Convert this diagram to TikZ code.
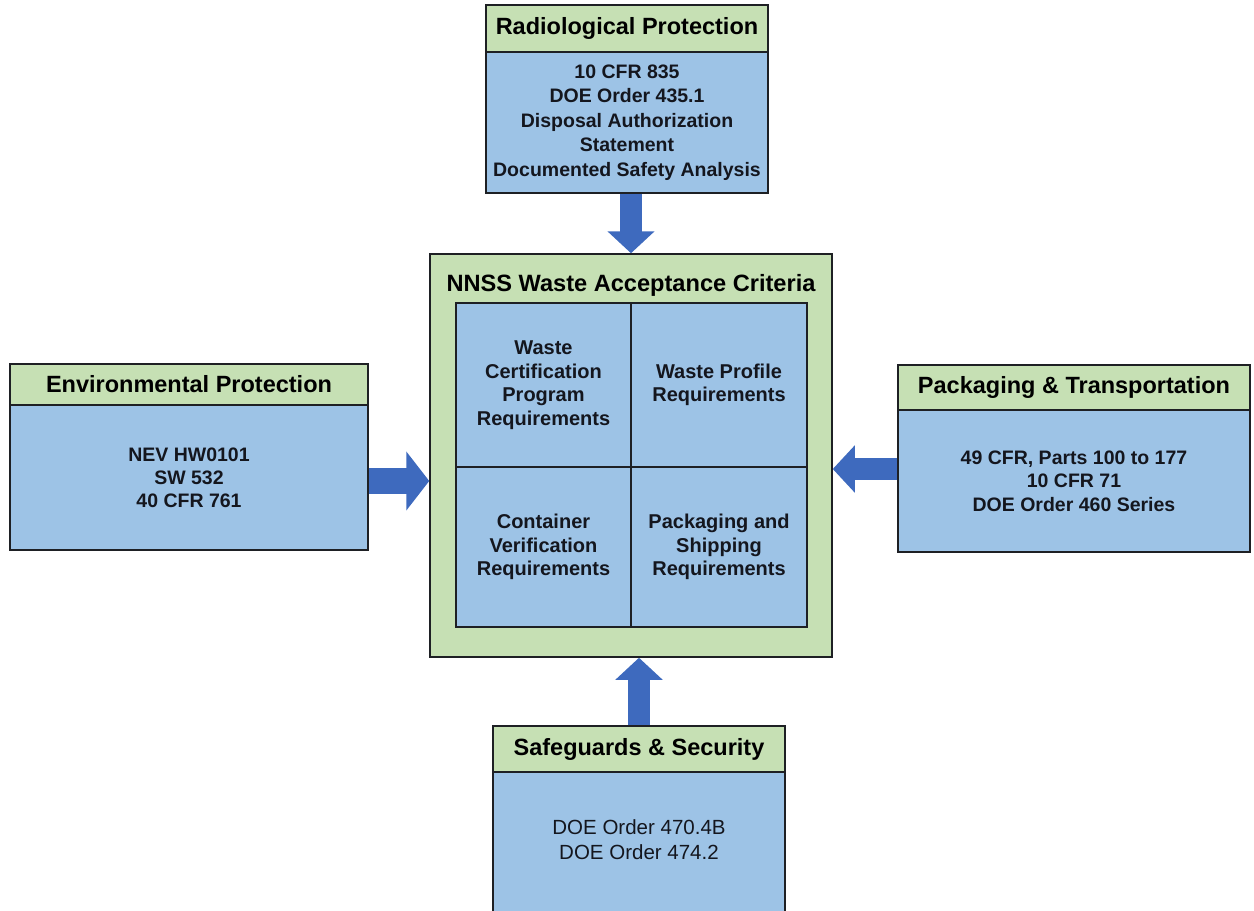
\documentclass[tikz,border=0pt]{standalone}
\usepackage{fontspec}
\setmainfont{Liberation Sans}
\usetikzlibrary{arrows.meta}
\definecolor{hdrgreen}{RGB}{198,224,180}
\definecolor{bodyblue}{RGB}{157,195,230}
\definecolor{arrblue}{RGB}{62,106,190}
\definecolor{edgec}{RGB}{30,32,36}
\definecolor{txt}{RGB}{20,22,30}
\begin{document}
\begin{tikzpicture}[x=1pt,y=-1pt,
  hdr/.style={draw=edgec, line width=1.5pt, fill=hdrgreen, inner sep=0pt,
    font=\fontsize{23.5}{27}\selectfont\bfseries, text=black},
  bodybox/.style={draw=edgec, line width=1.5pt, fill=bodyblue, inner sep=0pt,
    align=center, font=\fontsize{19.5}{24}\selectfont\bfseries, text=txt},
  cell/.style={draw=edgec, line width=1.5pt, fill=bodyblue, inner sep=0pt,
    align=center, font=\fontsize{20}{23.5}\selectfont\bfseries, text=txt},
  flow/.style={arrblue, line width=22pt, -{Triangle[width=46pt,length=22pt]}},
  bigflow/.style={arrblue, line width=26pt, -{Triangle[width=58pt,length=23pt]}}]
\useasboundingbox (0,0) rectangle (1254,911);

% Center box
\node[draw=edgec, line width=1.5pt, fill=hdrgreen, minimum width=402pt, minimum height=403pt] (wac) at (631,455.5) {};
\node[font=\fontsize{23.6}{27}\selectfont\bfseries, text=black] (wact) at (631,285) {NNSS Waste Acceptance Criteria};
\node[cell, minimum width=175pt, minimum height=164pt] (c1) at (543.5,385) {Waste\\Certification\\Program\\Requirements};
\node[cell, minimum width=176pt, minimum height=164pt] (c2) at (719,385) {Waste Profile\\Requirements};
\node[cell, minimum width=175pt, minimum height=160pt] (c3) at (543.5,547) {Container\\Verification\\Requirements};
\node[cell, minimum width=176pt, minimum height=160pt] (c4) at (719,547) {Packaging and\\Shipping\\Requirements};

% Top box
\node[hdr, minimum width=282pt, minimum height=47pt] (rph) at (627,28.5) {Radiological Protection};
\node[bodybox, minimum width=282pt, minimum height=141pt, font=\fontsize{19.5}{24.5}\selectfont\bfseries] (rpb) at (627,122.5)
  {10 CFR 835\\DOE Order 435.1\\Disposal Authorization\\Statement\\Documented Safety Analysis};

% Left box
\node[hdr, minimum width=358pt, minimum height=41pt] (eph) at (189,384.5) {Environmental Protection};
\node[bodybox, minimum width=358pt, minimum height=145pt, font=\fontsize{19.5}{23}\selectfont\bfseries] (epb) at (189,477.5)
  {NEV HW0101\\SW 532\\40 CFR 761};

% Right box
\node[hdr, minimum width=352pt, minimum height=45pt] (pth) at (1074,387.5) {Packaging \& Transportation};
\node[bodybox, minimum width=352pt, minimum height=142pt, font=\fontsize{19.5}{23.5}\selectfont\bfseries] (ptb) at (1074,481)
  {49 CFR, Parts 100 to 177\\10 CFR 71\\DOE Order 460 Series};

% Bottom box
\node[hdr, minimum width=292pt, minimum height=46pt] (ssh) at (639,749) {Safeguards \& Security};
\node[bodybox, minimum width=292pt, minimum height=143pt, font=\fontsize{20.5}{25}\selectfont] (ssb) at (639,843.5) {};
\node[align=center, font=\fontsize{20.5}{25}\selectfont, text=txt, inner sep=0pt] (ssbt) at (639,840)
  {DOE Order 470.4B\\DOE Order 474.2};

% Arrows
\draw[flow] (wac.north |- rpb.south) -- (wac.north);
\draw[flow] (ssh.north) -- (ssh.north |- wac.south);
\coordinate (la) at ([yshift=-3.5pt]epb.east);
\draw[bigflow] (la) -- (la -| wac.west);
\coordinate (ra) at ([yshift=12pt]ptb.west);
\draw[flow] (ra) -- (ra -| wac.east);
\end{tikzpicture}
\end{document}
